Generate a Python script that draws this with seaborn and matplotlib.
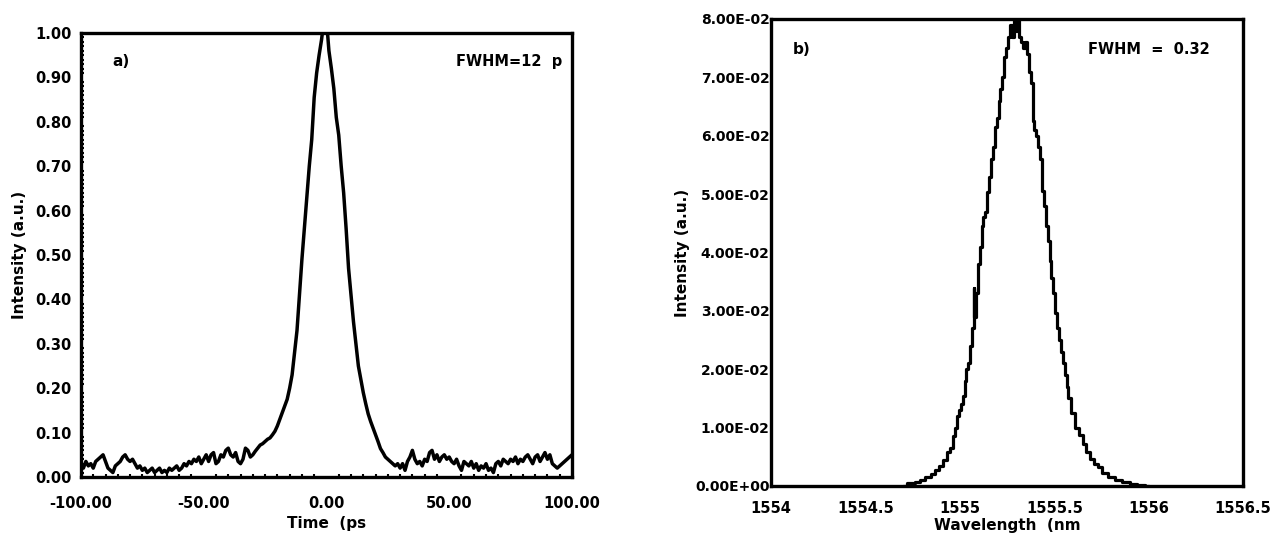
import numpy as np
import pandas as pd
import matplotlib
matplotlib.use("Agg")
import matplotlib.pyplot as plt
import seaborn as sns
from matplotlib.ticker import MultipleLocator, FuncFormatter

# ---------------- data: panel a (autocorrelation trace) ----------------
time_ps = list(range(-100, 101))
intensity_a = [
    # -100 .. -31
    0.030, 0.020, 0.035, 0.025, 0.030, 0.020, 0.035, 0.040, 0.045, 0.050,
    0.035, 0.020, 0.015, 0.010, 0.025, 0.030, 0.035, 0.045, 0.050, 0.040,
    0.035, 0.040, 0.030, 0.020, 0.025, 0.015, 0.020, 0.010, 0.015, 0.020,
    0.010, 0.015, 0.020, 0.010, 0.015, 0.010, 0.020, 0.015, 0.020, 0.025,
    0.015, 0.020, 0.030, 0.025, 0.035, 0.030, 0.040, 0.035, 0.045, 0.030,
    0.040, 0.050, 0.035, 0.050, 0.055, 0.030, 0.035, 0.050, 0.045, 0.060,
    0.065, 0.050, 0.045, 0.055, 0.035, 0.030, 0.040, 0.065, 0.060, 0.045,
    # -30 .. 25
    0.050, 0.058, 0.065, 0.072, 0.075, 0.080, 0.085, 0.088, 0.095, 0.103,
    0.115, 0.130, 0.145, 0.160, 0.175, 0.200, 0.230, 0.280, 0.330, 0.410,
    0.490, 0.560, 0.630, 0.700, 0.760, 0.855, 0.910, 0.950, 0.985, 1.030,
    1.030, 0.960, 0.920, 0.875, 0.810, 0.770, 0.700, 0.640, 0.560, 0.470,
    0.410, 0.350, 0.300, 0.250, 0.220, 0.190, 0.165, 0.142, 0.125, 0.110,
    0.095, 0.080, 0.064, 0.055, 0.045, 0.040,
    # 26 .. 100
    0.035, 0.030, 0.025, 0.030, 0.020, 0.030, 0.015, 0.035, 0.045, 0.060,
    0.040, 0.030, 0.035, 0.025, 0.040, 0.035, 0.055, 0.060, 0.040, 0.050,
    0.035, 0.045, 0.050, 0.040, 0.045, 0.035, 0.030, 0.040, 0.025, 0.015,
    0.035, 0.030, 0.025, 0.035, 0.020, 0.030, 0.015, 0.025, 0.020, 0.030,
    0.015, 0.020, 0.010, 0.030, 0.035, 0.025, 0.040, 0.035, 0.030, 0.040,
    0.035, 0.045, 0.030, 0.040, 0.035, 0.045, 0.050, 0.040, 0.030, 0.045,
    0.050, 0.035, 0.045, 0.055, 0.040, 0.050, 0.030, 0.025, 0.020, 0.025,
    0.030, 0.035, 0.040, 0.045, 0.050,
]
time_ticks = [-100, -50, 0, 50, 100]
int_a_ticks = [0.0, 0.1, 0.2, 0.3, 0.4, 0.5, 0.6, 0.7, 0.8, 0.9, 1.0]

# ---------------- data: panel b (optical spectrum) ----------------
wavelength_nm = [
    1554.70, 1554.74, 1554.78, 1554.80, 1554.83, 1554.86, 1554.88, 1554.90,
    1554.92, 1554.94, 1554.96, 1554.97, 1554.98, 1554.99, 1555.00, 1555.01,
    1555.02, 1555.03, 1555.04, 1555.05, 1555.06, 1555.07, 1555.075, 1555.08,
    1555.09, 1555.10, 1555.11, 1555.12, 1555.13, 1555.14, 1555.15, 1555.16,
    1555.17, 1555.18, 1555.19, 1555.20, 1555.21, 1555.22, 1555.23, 1555.24,
    1555.25, 1555.26, 1555.27, 1555.28, 1555.29, 1555.30, 1555.31, 1555.32,
    1555.33, 1555.34, 1555.35, 1555.36, 1555.37, 1555.38, 1555.39, 1555.40,
    1555.41, 1555.42, 1555.43, 1555.44, 1555.45, 1555.46, 1555.47, 1555.48,
    1555.49, 1555.50, 1555.51, 1555.52, 1555.53, 1555.54, 1555.55, 1555.56,
    1555.57, 1555.58, 1555.60, 1555.62, 1555.64, 1555.66, 1555.68, 1555.70,
    1555.72, 1555.74, 1555.77, 1555.80, 1555.84, 1555.88, 1555.92, 1555.96,
    1556.00,
]
intensity_b = [
    0.0000, 0.0005, 0.0007, 0.0010, 0.0015, 0.0020, 0.0027, 0.0035,
    0.0045, 0.0058, 0.0065, 0.0085, 0.0100, 0.0120, 0.0130, 0.0140,
    0.0155, 0.0180, 0.0200, 0.0210, 0.0240, 0.0270, 0.0340, 0.0290,
    0.0330, 0.0380, 0.0410, 0.0445, 0.0460, 0.0470, 0.0504, 0.0530,
    0.0560, 0.0580, 0.0615, 0.0630, 0.0660, 0.0680, 0.0700, 0.0735,
    0.0750, 0.0770, 0.0790, 0.0770, 0.0800, 0.0780, 0.0810, 0.0770,
    0.0760, 0.0750, 0.0760, 0.0740, 0.0710, 0.0690, 0.0625, 0.0610,
    0.0600, 0.0580, 0.0560, 0.0505, 0.0480, 0.0445, 0.0420, 0.0385,
    0.0356, 0.0330, 0.0297, 0.0270, 0.0250, 0.0230, 0.0210, 0.0190,
    0.0170, 0.0150, 0.0125, 0.0100, 0.0088, 0.0072, 0.0058, 0.0046,
    0.0038, 0.0032, 0.0022, 0.0015, 0.0010, 0.0007, 0.0004, 0.0001,
    0.0000,
]
wl_ticks = [1554, 1554.5, 1555, 1555.5, 1556, 1556.5]
int_b_ticks = [0.0, 0.01, 0.02, 0.03, 0.04, 0.05, 0.06, 0.07, 0.08]

# ---------------- styling ----------------
sns.set_theme(style="white")
plt.rcParams["font.family"] = ["DejaVu Sans"]
plt.rcParams["font.weight"] = "bold"
plt.rcParams["axes.labelweight"] = "bold"
plt.rcParams["text.color"] = "black"
plt.rcParams["axes.labelcolor"] = "black"
plt.rcParams["xtick.color"] = "black"
plt.rcParams["ytick.color"] = "black"

fig = plt.figure(figsize=(12.81, 5.41), dpi=100)
ax_a = fig.add_axes([0.0632, 0.1183, 0.3833, 0.8207])
ax_b = fig.add_axes([0.6019, 0.1017, 0.3685, 0.8632])

df_a = pd.DataFrame({"t": time_ps, "I": intensity_a})
df_b = pd.DataFrame({"w": wavelength_nm, "I": intensity_b})

sns.lineplot(data=df_a, x="t", y="I", ax=ax_a, color="black", linewidth=2.5,
             estimator=None)
sns.lineplot(data=df_b, x="w", y="I", ax=ax_b, color="black", linewidth=2.3,
             estimator=None, drawstyle="steps-mid")

for ax in (ax_a, ax_b):
    for sp in ax.spines.values():
        sp.set_visible(True)
        sp.set_color("black")
        sp.set_linewidth(2.4)
    ax.grid(False)

# panel a axes
ax_a.set_xlim(-100, 100)
ax_a.set_ylim(0, 1.0)
ax_a.set_xticks(time_ticks)
ax_a.set_yticks(int_a_ticks)
ax_a.xaxis.set_major_formatter(FuncFormatter(lambda v, p: f"{v:.2f}"))
ax_a.yaxis.set_major_formatter(FuncFormatter(lambda v, p: f"{v:.2f}"))
ax_a.yaxis.set_minor_locator(MultipleLocator(0.01))
ax_a.xaxis.set_minor_locator(MultipleLocator(5))
ax_a.tick_params(axis="both", which="major", direction="in", length=3, width=1.5,
                 labelsize=10.5, colors="black")
ax_a.tick_params(axis="x", which="major", pad=14)
ax_a.tick_params(axis="y", which="major", pad=7)
ax_a.tick_params(axis="both", which="minor", direction="in", length=2.5, width=1.5,
                 bottom=True, left=True)
ax_a.set_xlabel("Time  (ps", fontsize=11, fontweight="bold", labelpad=3,
                color="black")
ax_a.set_ylabel("Intensity (a.u.)", fontsize=11, fontweight="bold", labelpad=6,
                color="black")
ax_a.text(0.065, 0.935, "a)", transform=ax_a.transAxes, fontsize=11,
          fontweight="bold", ha="left", va="center", color="black")
ax_a.text(0.98, 0.935, "FWHM=12  p", transform=ax_a.transAxes, fontsize=10.5,
          fontweight="bold", ha="right", va="center", color="black")

# panel b axes
ax_b.set_xlim(1554, 1556.5)
ax_b.set_ylim(0, 0.08)
ax_b.set_xticks(wl_ticks)
ax_b.set_yticks(int_b_ticks)
ax_b.xaxis.set_major_formatter(FuncFormatter(lambda v, p: f"{v:g}"))
ax_b.yaxis.set_major_formatter(FuncFormatter(lambda v, p: f"{v:.2E}"))
ax_b.tick_params(axis="x", which="major", direction="inout", length=9, width=2,
                 labelsize=10.5, pad=6, colors="black")
ax_b.tick_params(axis="y", which="major", direction="in", length=7, width=2,
                 labelsize=10, pad=1, colors="black")
ax_b.set_xlabel("Wavelength  (nm", fontsize=11, fontweight="bold", labelpad=2,
                color="black")
ax_b.set_ylabel("Intensity (a.u.)", fontsize=11, fontweight="bold", labelpad=4,
                color="black")
ax_b.text(0.045, 0.935, "b)", transform=ax_b.transAxes, fontsize=11,
          fontweight="bold", ha="left", va="center", color="black")
ax_b.text(0.93, 0.935, "FWHM  =  0.32", transform=ax_b.transAxes, fontsize=10.5,
          fontweight="bold", ha="right", va="center", color="black")

fig.savefig("out.png", dpi=100, facecolor="white")
